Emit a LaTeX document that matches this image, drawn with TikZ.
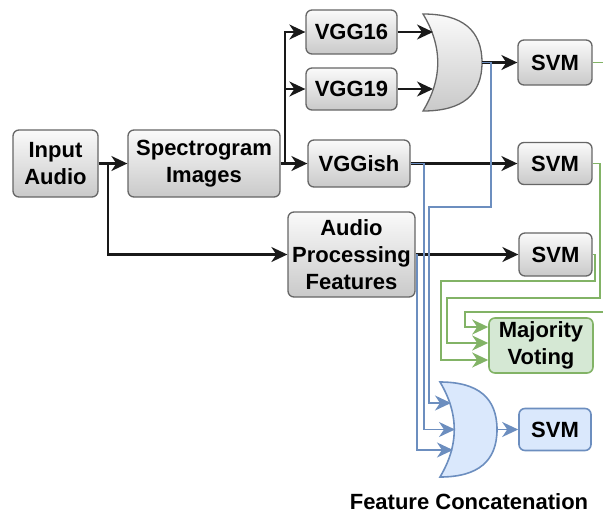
\documentclass[tikz,border=0pt]{standalone}
\usepackage{fontspec}
\setmainfont{Liberation Sans}
\usetikzlibrary{arrows.meta}

\definecolor{gstroke}{HTML}{666666}
\definecolor{grnfill}{HTML}{D5E8D4}
\definecolor{grnline}{HTML}{82B366}
\definecolor{blufill}{HTML}{DAE8FC}
\definecolor{bluline}{HTML}{6C8EBF}

\tikzset{
  lbl/.style={font=\fontsize{22}{27}\selectfont\bfseries, align=center, text=black},
  gbox/.style={lbl, draw=gstroke, top color=gray!4, bottom color=gray!42,
               rounded corners=6pt, line width=1.3pt, inner sep=0pt},
  grbox/.style={lbl, draw=grnline, fill=grnfill, rounded corners=6pt, line width=1.6pt, inner sep=0pt},
  blbox/.style={lbl, draw=bluline, fill=blufill, rounded corners=6pt, line width=1.6pt, inner sep=0pt},
  headtip/.style={-{Stealth[length=16pt,width=15pt,inset=5pt]}},
  arr/.style={line width=2.1pt, draw=black!90, headtip},
  barr/.style={line width=1.7pt, draw=bluline, headtip},
  garr/.style={line width=1.7pt, draw=grnline, headtip},
}

% OR-gate outline: left corner (#1,#2), width #3, height #4, style #5
\newcommand\orgateshape[5]{%
  \path[#5] (#1,#2)
    .. controls ({#1+#3*2/3},#2) and ({#1+#3},{#2+#4/6}) .. ({#1+#3},{#2+#4/2})
    .. controls ({#1+#3},{#2+#4*5/6}) and ({#1+#3*2/3},{#2+#4}) .. (#1,{#2+#4})
    .. controls ({#1+#3/3},{#2+#4*2/3}) and ({#1+#3/3},{#2+#4/3}) .. cycle;%
}

\begin{document}
\begin{tikzpicture}[x=1pt,y=-1pt]
\useasboundingbox (0,0) rectangle (603,515);
\clip (0,0) rectangle (603,515);

% processing blocks
\node[gbox, minimum width=85pt, minimum height=67pt] (ia) at (55.5,163.5) {Input\\Audio};
\node[gbox, minimum width=152pt, minimum height=67pt] (sp) at (204,163.5) {Spectrogram\\Images};
\node[gbox, minimum width=91pt, minimum height=44pt] (v16) at (351.5,32) {VGG16};
\node[gbox, minimum width=91pt, minimum height=42pt] (v19) at (351.5,89) {VGG19};
\node[gbox, minimum width=102pt, minimum height=47pt] (vish) at (359,163.5) {VGGish};
\node[gbox, minimum width=127pt, minimum height=85pt] (ap) at (351.5,254.5) {Audio\\Processing\\Features};

% classifiers
\node[gbox, minimum width=74pt, minimum height=45pt] (s1) at (555,62.5) {SVM};
\node[gbox, minimum width=74pt, minimum height=42pt] (s2) at (555,163.5) {SVM};
\node[gbox, minimum width=73pt, minimum height=43pt] (s3) at (555.5,254.5) {SVM};
\node[blbox, minimum width=72pt, minimum height=42pt] (s4) at (555,429.5) {SVM};
\node[grbox, minimum width=104pt, minimum height=55pt] (mv) at (541,345.5) {Majority\\Voting};

% merge gates
\orgateshape{423}{14}{59}{97}{draw=gstroke, line width=1.3pt, top color=gray!4, bottom color=gray!42}
\orgateshape{440}{382}{57}{95}{draw=bluline, line width=1.6pt, fill=blufill}
\coordinate (g1a) at (433,32);
\coordinate (g1b) at (433,89);
\coordinate (g1o) at (482,62.5);
\coordinate (g2a) at (451,403);
\coordinate (g2b) at (455,429.5);
\coordinate (g2c) at (453,450);
\coordinate (g2o) at (497,429.5);

\node[lbl] (fc) at (469,502) {Feature Concatenation};

% junction points
\coordinate (j1) at (108,163.5);
\coordinate (j2) at (285,163.5);

% main flow
\draw[arr] (ia.east) -- (sp.west);
\draw[arr] (j1) |- (ap.west);
\draw[arr] (sp.east) -- (vish.west);
\draw[arr] (j2) |- (v16.west);
\draw[arr] (j2) |- (v19.west);
\draw[arr] (v16.east) -- (g1a);
\draw[arr] (v19.east) -- (g1b);
\draw[arr] (g1o) -- (s1.west);
\draw[arr] (vish.east) -- (s2.west);
\draw[arr] (ap.east) -- (s3.west);

% feature concatenation branch
\draw[barr] (g1o) -- (491,62.5) -- (491,207) -- (429,207) -- (429,403) -- (g2a);
\draw[barr] (vish.east) -- (424,163.5) -- (424,429.5) -- (g2b);
\draw[barr] (ap.east) -- (417,254.5) -- (417,450) -- (g2c);
\draw[barr] (g2o) -- (s4.west);

% majority voting branch
\coordinate (mv1) at (mv.west |- 0,327);
\coordinate (mv2) at (mv.west |- 0,343);
\coordinate (mv3) at (mv.west |- 0,360);
\draw[garr] (s1.east) -- (608,62.5) -- (608,312) -- (465,312) -- (465,327) -- (mv1);
\draw[garr] (s2.east) -- (600,163.5) -- (600,298) -- (447,298) -- (447,343) -- (mv2);
\draw[garr] (s3.east) -- (595,254.5) -- (595,281) -- (441,281) -- (441,360) -- (mv3);
\end{tikzpicture}
\end{document}
